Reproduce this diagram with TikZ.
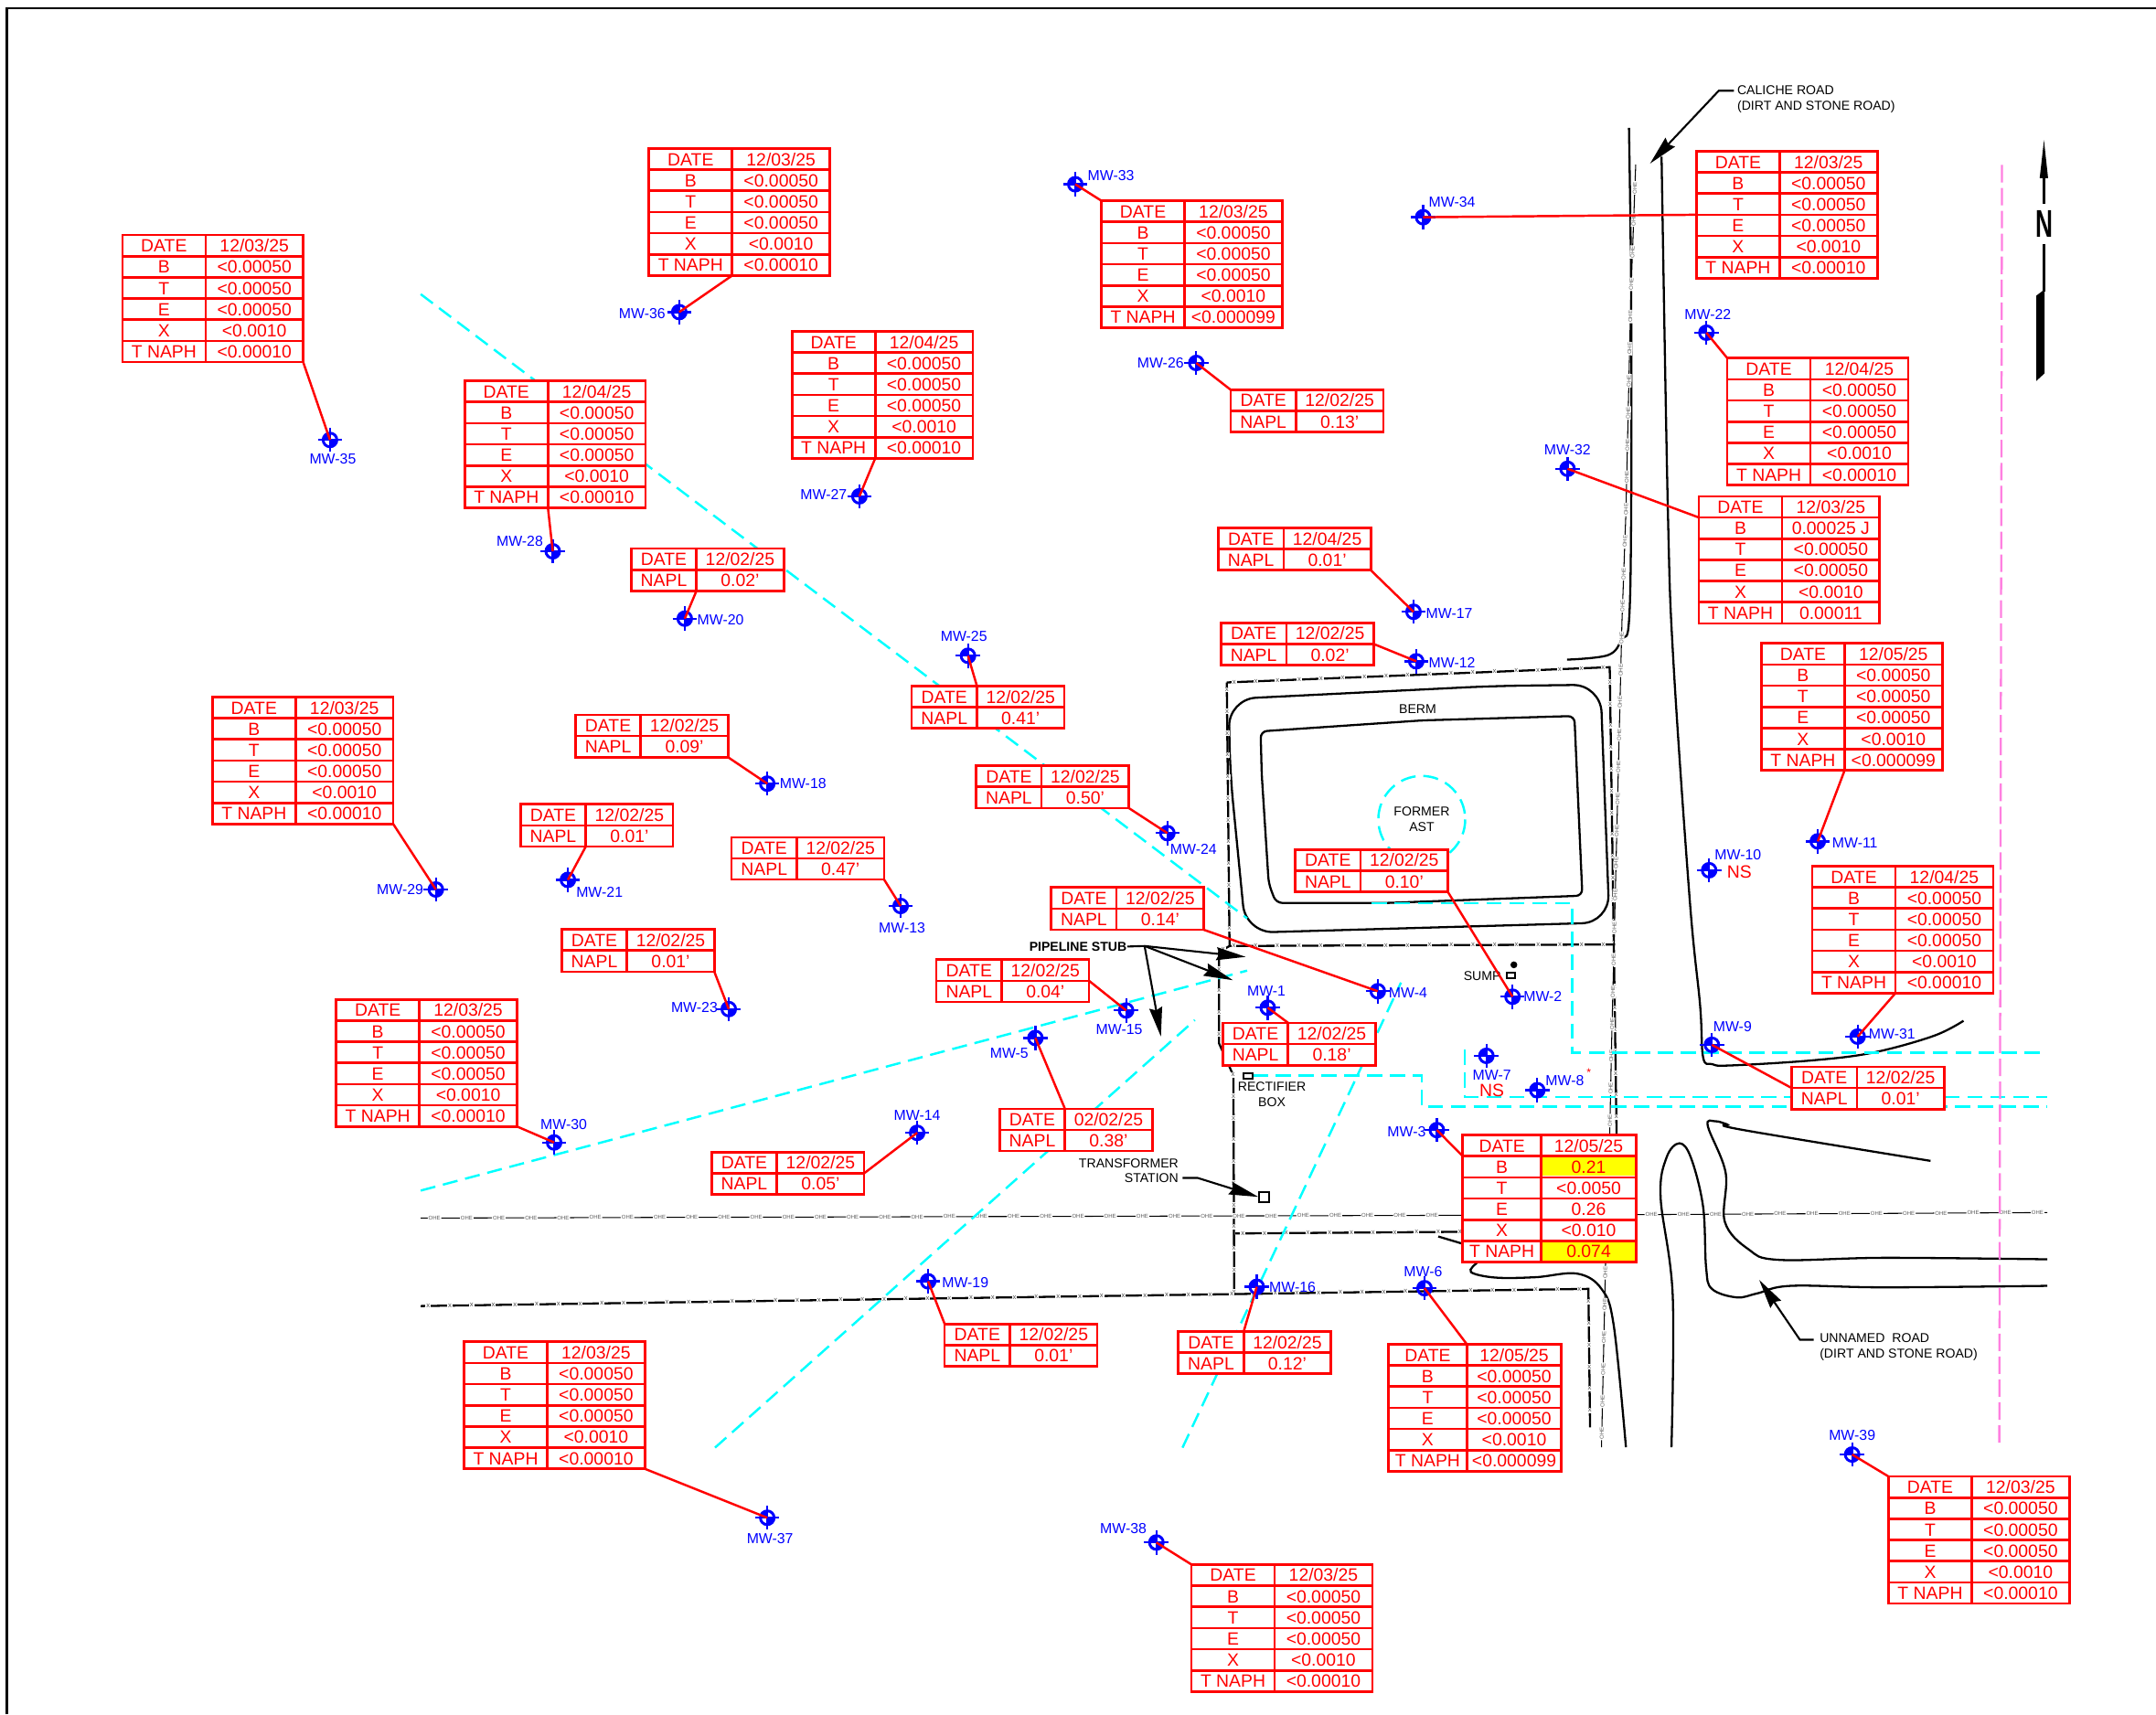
\documentclass[tikz,border=0pt]{standalone}
\usepackage{fontspec}
\setmainfont{Liberation Sans}
\usetikzlibrary{arrows.meta, decorations.markings}

\definecolor{utilcyan}{RGB}{0,255,255}
\definecolor{linepink}{RGB}{255,128,224}
\definecolor{hitcolor}{RGB}{255,255,0}
\definecolor{mapred}{RGB}{255,0,0}
\definecolor{mapblue}{RGB}{0,0,255}

\tikzset{
  cell/.style={draw=mapred, line width=.75pt, fill=white, text=mapred, inner sep=0pt, outer sep=0pt,
    anchor=north west, minimum height=15.4*0.015cm, text height=.14cm, text depth=0pt,
    font=\fontsize{5.5}{6}\selectfont},
  well/.style={circle, draw=mapblue, line width=.85pt, inner sep=0pt, minimum size=.15cm,
    path picture={
      \fill[mapblue] (path picture bounding box.center) rectangle (path picture bounding box.north west);
      \fill[mapblue] (path picture bounding box.center) rectangle (path picture bounding box.south east);}},
  wellcross/.style={mapblue, line width=.65pt},
  welltag/.style={text=mapblue, inner sep=0pt, font=\fontsize{4.5}{5}\selectfont},
  maptext/.style={inner sep=0pt, align=center, font=\fontsize{4}{4.7}\selectfont},
  leader/.style={mapred, line width=.7pt},
  road/.style={black, line width=.65pt},
  cyanline/.style={utilcyan, line width=.7pt, dash pattern=on .165cm off .085cm},
  pinkline/.style={linepink, line width=.65pt, dash pattern=on .19cm off .06cm},
  callout/.style={black, line width=.6pt},
  bigtip/.style={-{Stealth[length=.32cm, width=.14cm, inset=.03cm]}},
  fenceline/.style={black, line width=.65pt, postaction={decorate, decoration={markings,
    mark=between positions .08cm and 1 step .237cm with {\node[fill=white, inner sep=.25pt,
      font=\fontsize{2.2}{3}\selectfont, text=black!70] {x};}}}},
  ohetext/.style={fill=white, inner sep=.25pt, transform shape, text=black!65,
    font=\fontsize{1.7}{2}\selectfont},
  oheline/.style={black, line width=.3pt, postaction={decorate, decoration={markings,
    mark=between positions .15cm and 1 step .351cm with {\node[ohetext] {OHE};}}}},
}

% one table: name, left, top, left column, right column, date, rows
\newcommand{\sampletab}[7]{
  \node[cell, minimum width=#4*0.015cm] (#1-l1) at (#2,#3) {DATE};
  \node[cell, minimum width=#5*0.015cm] (#1-r1) at ({#2+#4},#3) {#6};
  \foreach \lab/\val [count=\i from 2] in #7 {
    \node[cell, minimum width=#4*0.015cm] (#1-l\i) at (#2,{#3+(\i-1)*15.4}) {\lab};
    \node[cell, minimum width=#5*0.015cm] (#1-r\i) at ({#2+#4},{#3+(\i-1)*15.4}) {\val};
  }
}
\newcommand{\napltab}[5]{\sampletab{#1}{#2}{#3}{47.5}{63.5}{#4}{{NAPL/#5}}}
\newcommand{\chemtab}[5]{\sampletab{#1}{#2}{#3}{60.5}{71}{#4}{#5}}
\newcommand{\mwell}[5]{
  \node[well] (mw#1) at (#2,#3) {};
  \draw[wellcross] ([yshift=1.2pt]mw#1.north) -- ([yshift=-1.2pt]mw#1.south);
  \draw[wellcross] ([xshift=-1.2pt]mw#1.west) -- ([xshift=1.2pt]mw#1.east);
  \node[welltag] (mw#1lab) at (#4,#5) {MW-#1};
}
\def\rowsA{B/<0.00050,T/<0.00050,E/<0.00050,X/<0.0010,T NAPH/<0.00010}
\def\rowsB{B/<0.00050,T/<0.00050,E/<0.00050,X/<0.0010,T NAPH/<0.000099}

\begin{document}
\begin{tikzpicture}[x=0.015cm, y=-0.015cm]
  \useasboundingbox (0,0) rectangle (1568,1247);
  \draw[line width=.6pt] (5,1247) -- (5,6) -- (1568,6);

  % roads
  \draw[road] plot[smooth, tension=.6] coordinates {(1184.7,93) (1186.3,217) (1186.3,372)
    (1184.7,452) (1179.6,465) (1169.5,476.5) (1139.7,479.8)};
  \draw[road] plot[smooth, tension=.6] coordinates {(1208.4,114) (1213,372) (1217,481)
    (1229,656) (1236.4,731) (1238.6,769) (1245,774) (1258.4,775) (1318,771.3) (1362,765.7)
    (1406,753.6) (1428,742.5)};
  \draw[road] plot[smooth, tension=.6] coordinates {(1404,844.4) (1267,821.8) (1256,817.8)
    (1247.4,815.6) (1242,819) (1255,853) (1254.4,888.7) (1271.6,908.7) (1293.7,916.4)
    (1371,914.9) (1489,916)};
  \draw[road] plot[smooth, tension=.6] coordinates {(1489,935.3) (1371,936.4) (1302.5,935.3)
    (1278,940.8) (1263,943.7) (1245,937.5) (1240.8,922) (1238.6,877.7) (1229.8,842.2)
    (1221.4,831.6) (1212,842) (1207.7,871) (1216.5,942) (1215.6,1052.7)};
  \draw[road] plot[smooth, tension=.6] coordinates {(1074,918.7) (1069.8,925.3) (1087.6,929.3)
    (1117,929) (1147,926.4) (1164.7,937.5) (1173.6,964) (1182.5,1052.7)};
  \draw[road] (1046,899.4) -- (1063.8,904.7);

  % berm
  \draw[road, rounded corners=.3cm] (893.5,508.5) -- (1085.5,499) -- (1164,498) -- (1170.5,671)
    -- (906,678.5) -- (894.7,562.9) -- cycle;
  \draw[road, rounded corners=.07cm] (916.8,532) -- (1034.6,524) -- (1145,520.8) -- (1150.8,651.5)
    -- (1009,656.8) -- (928,656.8) -- (922.7,642.7) -- (917.6,563) -- cycle;

  % fences
  \path[draw, fenceline] (892.2,496.4) -- (1170.7,485.3) -- (1175.7,825);
  \path[draw, fenceline] (892.2,496.4) -- (894.2,688.1) -- (1174.5,687);
  \path[draw, fenceline] (894.2,688.1) -- (886.6,692.5) -- (886.6,759) -- (897,782.4) -- (897.6,942);
  \path[draw, fenceline] (898.5,897.2) -- (1063.8,896);
  \path[draw, fenceline] (306,950) -- (1155.2,937.5) -- (1156.4,1038.3);

  % overhead electric
  \path[draw, oheline] (306,886) -- (1063,884);
  \path[draw, oheline] (1191,883.5) -- (1489,882);
  \path[draw, oheline] (1164.7,1052.7) -- (1167.7,918);
  \path[draw, oheline] (1170.7,825) -- (1172,762) -- (1179.6,452) -- (1182.5,372)
    -- (1186,217) -- (1189.6,119.7);

  % dashed utilities
  \draw[cyanline] (306,214) -- (907,668);
  \draw[cyanline] (306,866) -- (907,706);
  \draw[cyanline] (520,1053) -- (869,742);
  \draw[cyanline] (860,1053) -- (1018.9,714.7);
  \draw[cyanline] (1034,596) circle (31.6);
  \draw[cyanline] (997.7,657) -- (1143.5,657) -- (1143.5,765.7) -- (1489,765.7);
  \draw[cyanline] (911,782.4) -- (1034,782.4) -- (1034,805) -- (1489,805);
  \draw[cyanline] (1065.3,763.5) -- (1065.3,797.9) -- (1489,797.9);
  \draw[pinkline] (1456,120) -- (1454,1053);

  % site features
  \node[maptext] (bermlab) at (1031,516) {BERM};
  \node[maptext] (astlab) at (1034,596) {FORMER\\AST};
  \node[maptext] (sumplab) at (1078,710) {SUMP};
  \node[draw, line width=.5pt, inner sep=0pt, minimum width=.09cm, minimum height=.06cm] (sump) at (1099,709.4) {};
  \node[circle, fill=black, inner sep=0pt, minimum size=.075cm] (sumpdot) at (1101,701.8) {};
  \node[draw, line width=.5pt, inner sep=0pt, minimum width=.1cm, minimum height=.06cm] (rectbox) at (907.5,782.6) {};
  \node[maptext] (rectlab) at (925,796) {RECTIFIER\\BOX};
  \node[draw, line width=.55pt, inner sep=0pt, minimum size=.11cm] (transbox) at (919.5,870.6) {};
  \node[maptext, anchor=east, align=right] (translab) at (857.5,851.5) {TRANSFORMER\\STATION};
  \coordinate (transjoin) at (871,856.8);
  \draw[callout, bigtip] (860,856.8) -- (transjoin) -- (transbox.west);

  \node[maptext, font=\fontsize{4}{4.7}\selectfont\bfseries] (pipestub) at (784,688.5) {PIPELINE STUB};
  \coordinate (pipejoin) at (832.4,688.1);
  \draw[callout] (pipestub.east) -- (pipejoin);
  \foreach \t in {(906,696),(896.7,713),(844.3,754)}
    \draw[callout, bigtip] (pipejoin) -- \t;

  \node[maptext, anchor=west, align=left] (calichelab) at (1263,72) {CALICHE ROAD\\(DIRT AND STONE ROAD)};
  \coordinate (calichetip) at (1200,119);
  \draw[callout, bigtip] (1261,66) -- (1250,66) -- (calichetip);
  \node[maptext, anchor=west, align=left] (unnamedlab) at (1323,980) {UNNAMED~ ROAD\\(DIRT AND STONE ROAD)};
  \coordinate (unnamedtip) at (1279.4,931);
  \draw[callout, bigtip] (1319,974.5) -- (1309,974.5) -- (unnamedtip);

  % north arrow
  \fill (1486.5,102) -- (1489.5,129.6) -- (1483.4,129.6) -- cycle;
  \draw[line width=.6pt] (1486.5,125) -- (1486.5,148.5);
  \node[inner sep=0pt, font=\fontsize{12}{12}\selectfont\bfseries, xscale=.62, transform shape] (northlab) at (1486.5,163) {N};
  \draw[line width=.6pt] (1486.5,177.3) -- (1486.5,212);
  \fill (1487,210.5) -- (1481,215) -- (1481,277) -- (1487,271.5) -- cycle;

  % wells
  \mwell{35}{240}{320}{242}{334}
  \mwell{36}{494}{227}{467}{228}
  \mwell{33}{782}{134}{808}{128}
  \mwell{34}{1035}{158}{1056}{147}
  \mwell{22}{1241}{242}{1242}{229}
  \mwell{32}{1140}{341}{1140}{327}
  \mwell{26}{870}{264}{844}{264}
  \mwell{27}{625}{361}{599}{360}
  \mwell{28}{402}{401}{378}{394}
  \mwell{20}{498}{450}{524}{451}
  \mwell{17}{1028}{445}{1054}{446}
  \mwell{12}{1030}{481}{1056}{482}
  \mwell{25}{704}{477}{701}{463}
  \mwell{18}{558}{570}{584}{570}
  \mwell{29}{317}{647}{291}{647}
  \mwell{21}{413}{640}{436}{649}
  \mwell{24}{849}{606}{868}{618}
  \mwell{13}{655}{659}{656}{675}
  \mwell{23}{530}{734}{505}{733}
  \mwell{15}{819}{735}{814}{749}
  \mwell{1}{922}{733}{921}{721}
  \mwell{4}{1002}{721}{1024}{722}
  \mwell{2}{1100}{725}{1122}{725}
  \mwell{5}{753}{755}{734}{766}
  \mwell{30}{403}{831}{410}{818}
  \mwell{14}{667}{824}{667}{811}
  \mwell{3}{1045}{822}{1023}{823}
  \mwell{7}{1081}{768}{1085}{782}
  \mwell{8}{1118}{793}{1138}{786}
  \mwell{10}{1243}{633}{1264}{622}
  \mwell{11}{1322}{612}{1349}{613}
  \mwell{9}{1245}{760}{1260}{747}
  \mwell{31}{1351}{754}{1376}{752}
  \mwell{19}{675}{932}{702}{933}
  \mwell{16}{914}{936}{940}{936}
  \mwell{6}{1036}{937}{1035}{925}
  \mwell{37}{558}{1104}{560}{1119}
  \mwell{38}{841}{1122}{817}{1112}
  \mwell{39}{1347}{1058}{1347}{1044}
  \node[text=mapred, inner sep=0pt, font=\fontsize{5.5}{6}\selectfont] (mw7ns) at (1085,793.5) {NS};
  \node[text=mapred, inner sep=0pt, font=\fontsize{5.5}{6}\selectfont] (mw10ns) at (1265,634) {NS};
  \node[text=mapred, inner sep=0pt, font=\fontsize{3.5}{4}\selectfont] (mw8star) at (1155.5,780) {*};

  % result tables
  \chemtab{mw35tab}{89}{171}{12/03/25}{\rowsA}
  \chemtab{mw36tab}{472}{108}{12/03/25}{\rowsA}
  \chemtab{mw27tab}{576}{241}{12/04/25}{\rowsA}
  \chemtab{mw28tab}{338}{277}{12/04/25}{\rowsA}
  \chemtab{mw33tab}{801}{146}{12/03/25}{\rowsB}
  \chemtab{mw34tab}{1233.8}{110}{12/03/25}{\rowsA}
  \chemtab{mw22tab}{1256.2}{260.5}{12/04/25}{\rowsA}
  \chemtab{mw32tab}{1235.5}{361}{12/03/25}{{B/0.00025 J,T/<0.00050,E/<0.00050,X/<0.0010,T NAPH/0.00011}}
  \chemtab{mw11tab}{1281}{468}{12/05/25}{\rowsB}
  \chemtab{mw31tab}{1318}{630}{12/04/25}{\rowsA}
  \chemtab{mw29tab}{154.5}{507}{12/03/25}{\rowsA}
  \chemtab{mw30tab}{244.5}{727}{12/03/25}{\rowsA}
  \chemtab{mw37tab}{337.5}{976}{12/03/25}{\rowsA}
  \chemtab{mw38tab}{866.5}{1138}{12/03/25}{\rowsA}
  \chemtab{mw39tab}{1373.5}{1074}{12/03/25}{\rowsA}
  \sampletab{mw6tab}{1009.8}{977.8}{57}{68.8}{12/05/25}{\rowsB}
  \sampletab{mw3tab}{1063.8}{825.6}{57}{69.2}{12/05/25}{{B/{},T/<0.0050,E/0.26,X/<0.010,T NAPH/{}}}
  \foreach \r/\v in {2/0.21,6/0.074} {
    \fill[hitcolor] ([shift={(.4pt,-.4pt)}]mw3tab-r\r.north west) rectangle ([shift={(-.4pt,.4pt)}]mw3tab-r\r.south east);
    \node[text=mapred, text height=.14cm, text depth=0pt, inner sep=0pt, font=\fontsize{5.5}{6}\selectfont] (mw3hit\r) at (mw3tab-r\r) {\v};
  }

  \napltab{mw26tab}{895}{283.5}{12/02/25}{0.13'}
  \napltab{mw17tab}{886}{384}{12/04/25}{0.01'}
  \napltab{mw12tab}{888}{453}{12/02/25}{0.02'}
  \napltab{mw20tab}{459}{399}{12/02/25}{0.02'}
  \napltab{mw25tab}{663}{499}{12/02/25}{0.41'}
  \napltab{mw18tab}{418.5}{520}{12/02/25}{0.09'}
  \napltab{mw24tab}{710}{557}{12/02/25}{0.50'}
  \napltab{mw21tab}{378.5}{585}{12/02/25}{0.01'}
  \napltab{mw13tab}{532}{609}{12/02/25}{0.47'}
  \napltab{mw2tab}{942}{618}{12/02/25}{0.10'}
  \napltab{mw4tab}{764.5}{645.5}{12/02/25}{0.14'}
  \napltab{mw23tab}{408.5}{676}{12/02/25}{0.01'}
  \napltab{mw15tab}{681}{698}{12/02/25}{0.04'}
  \napltab{mw1tab}{889.3}{744}{12/02/25}{0.18'}
  \napltab{mw9tab}{1303}{776}{12/02/25}{0.01'}
  \napltab{mw5tab}{727}{806.5}{02/02/25}{0.38'}
  \napltab{mw14tab}{517.5}{838}{12/02/25}{0.05'}
  \napltab{mw19tab}{687}{963}{12/02/25}{0.01'}
  \napltab{mw16tab}{857}{968.5}{12/02/25}{0.12'}

  % leaders
  \foreach \w/\a in {35/r6.south east,36/l6.south east,27/l6.south east,28/l6.south east,
    33/l1.north west,34/l3.south west,22/l1.north west,32/l1.south west,11/l6.south east,
    31/l6.south east,29/r6.south east,30/r6.south east,37/r6.south east,38/l1.north west,
    39/l1.north west,6/l1.north east,3/l1.south west,26/l1.north west,17/r2.south east,
    12/r1.south east,20/l2.south east,25/l1.north east,18/r2.south east,24/r2.south east,
    21/l2.south east,13/r2.south east,2/r2.south east,4/r2.south east,23/r2.south east,
    15/r1.south east,1/l1.north east,9/l1.south west,5/l1.north east,14/r1.south east,
    19/l1.north west,16/l1.north east}
    \draw[leader] (mw\w tab-\a) -- (mw\w.center);
\end{tikzpicture}
\end{document}
